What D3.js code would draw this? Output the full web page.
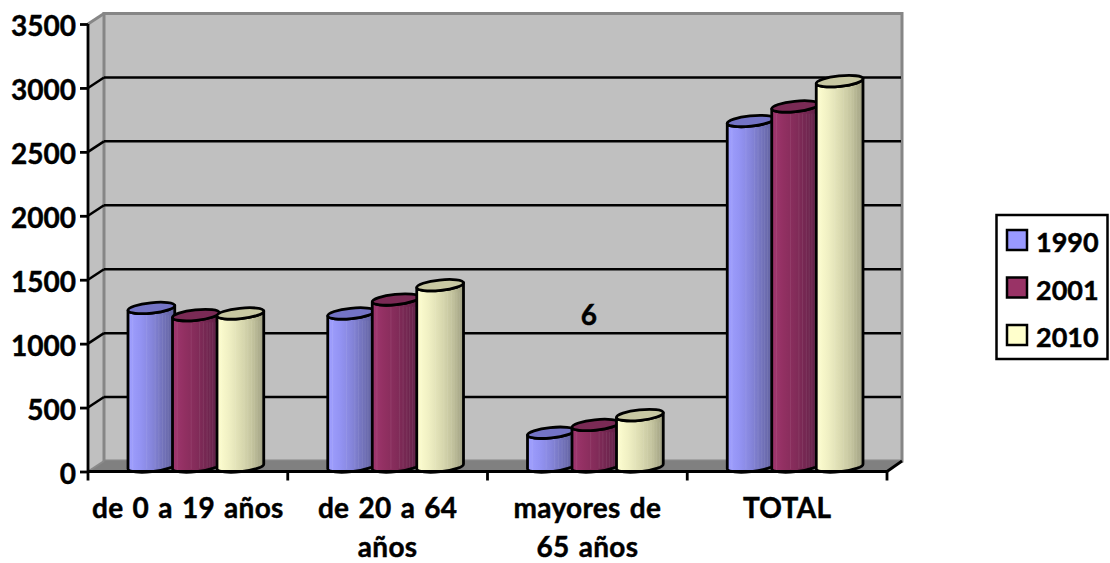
<!DOCTYPE html>
<html><head><meta charset="utf-8">
<script src="https://cdn.jsdelivr.net/npm/d3@7"></script>
<style>html,body{margin:0;padding:0;background:#fff}svg{display:block}text{font-family:Lato,"Open Sans",sans-serif;font-weight:700;fill:#000;stroke:#000;stroke-width:.45px}</style>
</head><body><svg id="c" width="1110" height="563"></svg>
<script>
const categories=[["de 0 a 19 años"],["de 20 a 64","años"],["mayores de","65 años"],["TOTAL"]];
const seriesNames=["1990","2001","2010"];
const values1990=[1240,1197,264,2702];
const values2001=[1184,1306,325,2816];
const values2010=[1197,1418,402,3014];
const yTicks=[0,500,1000,1500,2000,2500,3000,3500];
const fills=[
 {base:"#9999ff",top:"#7474c6",stops:["#a0a0ff","#9494f4","#8686dc","#7272ba","#60609c"]},
 {base:"#993366",top:"#7a2a55",stops:["#a03670","#923062","#842c5a","#722650","#5e2046"]},
 {base:"#ffffcc",top:"#c8c8a2",stops:["#ffffd0","#f0f0c4","#dcdcb2","#c4c49e","#9e9e80"]}];
const stripes=[0.1,0.4,0.58,0.66,0.74,0.8,0.86,0.92];
const series=[values1990,values2001,values2010];
const svg=d3.select("#c");
const dx=16,dy=10.5,L=88,R=887,B=471.5,T=24,Rx=902;
const y=d3.scaleLinear().domain([0,3500]).range([B,T]);
const x=d3.scaleBand().domain(d3.range(categories.length)).range([L,R]);
const sx=d3.scalePoint().domain([0,1,2]).range([-44.5,44.5]);
const rx=23.5,ry=5.2,rot=-6,baseLift=5;
const defs=svg.append("defs");
fills.forEach((f,i)=>{
 const g=defs.append("linearGradient").attr("id","g"+i);
 f.stops.forEach((c,k)=>g.append("stop").attr("offset",k/(f.stops.length-1)).attr("stop-color",c));
});
// walls and floor
svg.append("path").attr("d",`M${L},${B}L${L+dx},${B-dy}V${T-dy}L${L},${T}Z`).attr("fill","#c0c0c0");
svg.append("rect").attr("x",L+dx).attr("y",T-dy).attr("width",Rx-L-dx).attr("height",B-T).attr("fill","#c0c0c0").attr("stroke","#868686").attr("stroke-width",3);
svg.append("path").attr("d",`M${L},${B}L${L+dx},${B-dy}H${Rx}L${R},${B}Z`).attr("fill","#808080");
svg.append("line").attr("x1",L).attr("y1",T).attr("x2",L+dx).attr("y2",T-dy).attr("stroke","#868686").attr("stroke-width",3);
// grid
const grid=svg.append("g").attr("stroke","#000").attr("stroke-width",2.5);
yTicks.filter(t=>t>0&&t<3500).forEach(t=>{
 grid.append("line").attr("x1",L+dx).attr("x2",Rx-1).attr("y1",y(t)-dy).attr("y2",y(t)-dy);
 grid.append("line").attr("x1",L).attr("y1",y(t)).attr("x2",L+dx).attr("y2",y(t)-dy);
});
svg.append("line").attr("x1",L+dx).attr("y1",B-dy).attr("x2",L).attr("y2",B).attr("stroke","#8a8a8a").attr("stroke-width",2);
// cylinders
const rad=rot*Math.PI/180, ex=rx*Math.cos(rad), ey=rx*Math.sin(rad);
series.forEach((vals,s)=>{
 const g=svg.append("g");
 vals.forEach((v,c)=>{
  const cx=x(c)+x.bandwidth()/2+dx/2+sx(s), by=y(0)-baseLift, ty=y(v)-baseLift;
  g.append("path").attr("d",
   `M${cx-ex},${ty-ey}L${cx-ex},${by-ey}A${rx},${ry} ${rot} 0 0 ${cx+ex},${by+ey}L${cx+ex},${ty+ey}A${rx},${ry} ${rot} 0 1 ${cx-ex},${ty-ey}Z`)
   .attr("fill",`url(#g${s})`).attr("stroke","#000").attr("stroke-width",2.8).attr("stroke-linejoin","round");
  stripes.forEach(f=>{
   const px=cx-ex+f*2*ex;
   g.append("line").attr("x1",px).attr("x2",px).attr("y1",ty+ry+2).attr("y2",by+ry-3+(0.5-f)*4)
    .attr("stroke","#fff").attr("stroke-opacity",0.08).attr("stroke-width",1);
  });
  g.append("ellipse").attr("cx",cx).attr("cy",ty).attr("rx",rx).attr("ry",ry)
   .attr("transform",`rotate(${rot} ${cx} ${ty})`).attr("fill",fills[s].top).attr("stroke","#000").attr("stroke-width",2.8);
 });
});
// front axes
const axisY=svg.append("g").attr("transform",`translate(${L},0)`).call(d3.axisLeft(y).tickValues(yTicks).tickSize(8).tickPadding(4).tickFormat(d3.format("d")));
axisY.selectAll("path,line").attr("stroke","#000").attr("stroke-width",2.8);
axisY.selectAll("text").attr("font-size",28).attr("dy","0.42em").style("font-family","Lato").style("font-weight",700);
axisY.select(".domain").attr("d",`M0,${B}V${T}`);
const axisX=svg.append("g").attr("transform",`translate(0,${B})`).call(d3.axisBottom(x).tickSize(0).tickFormat(""));
axisX.selectAll(".tick").remove();
axisX.select(".domain").attr("stroke","#000").attr("stroke-width",2.8).attr("d",`M${L},0H${R}`);
d3.range(categories.length+1).forEach(i=>{
 const px=i<categories.length?x(i):R;
 svg.append("line").attr("x1",px).attr("x2",px).attr("y1",B).attr("y2",B+9).attr("stroke","#000").attr("stroke-width",2.8);
});
svg.append("line").attr("x1",R).attr("y1",B).attr("x2",Rx).attr("y2",B-dy).attr("stroke","#000").attr("stroke-width",2.8);
// category labels
categories.forEach((lines,i)=>{
 lines.forEach((t,k)=>{
  svg.append("text").attr("x",x(i)+x.bandwidth()/2).attr("y",518+k*38.5).attr("text-anchor","middle")
   .attr("font-size",28).style("letter-spacing","0.3px").style("word-spacing","2px").text(t);
 });
});
// stray label
svg.append("text").attr("x",x(2)+x.bandwidth()/2+1.5).attr("y",325).attr("text-anchor","middle").attr("font-size",28).text("6");
// legend
svg.append("rect").attr("x",996.5).attr("y",215).attr("width",111).attr("height",144).attr("fill","#fff").attr("stroke","#000").attr("stroke-width",2.5);
seriesNames.forEach((n,i)=>{
 const yy=230+i*47.5;
 svg.append("rect").attr("x",1007).attr("y",yy).attr("width",20).attr("height",20).attr("fill",fills[i].base).attr("stroke","#000").attr("stroke-width",2.5);
 svg.append("text").attr("x",1036).attr("y",yy+22).attr("font-size",27).text(n);
});
</script></body></html>
